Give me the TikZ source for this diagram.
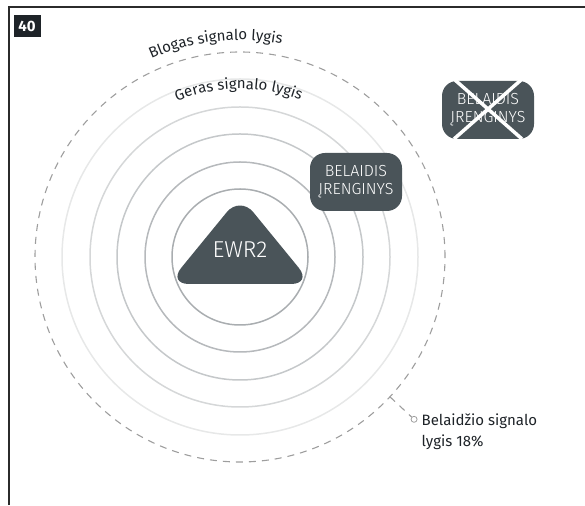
\documentclass[tikz,border=0pt]{standalone}
\usepackage{fontspec}
\setmainfont{Fira Sans}
\newfontfamily\lightfont{Fira Sans Light}
\usetikzlibrary{positioning,calc,decorations.text}
\definecolor{ink}{HTML}{1E2328}
\definecolor{slate}{HTML}{4A5459}
\definecolor{rule}{HTML}{2B2B2B}
\definecolor{dashgrey}{HTML}{9E9E9E}
\definecolor{ringa}{HTML}{A9ADB0}
\definecolor{ringb}{HTML}{B6B9BC}
\definecolor{ringc}{HTML}{C5C8CA}
\definecolor{ringd}{HTML}{D5D7D8}
\definecolor{ringe}{HTML}{E7E8E8}

\tikzset{
  ring/.style={line width=1.5pt},
  devicebox/.style={
    fill=slate,
    rounded corners=15pt,
    minimum width=92pt,
    minimum height=58pt,
    inner sep=2pt,
    text=white,
    align=center,
    font=\lightfont\fontsize{16}{18}\selectfont
  },
  arclabel/.style={
    decorate,
    decoration={text along path, text align=center, text color=ink,
      text={|\fontsize{15}{17}\selectfont|#1}}
  }
}

\begin{document}
\begin{tikzpicture}[x=1pt,y=1pt]
  \useasboundingbox (0,0) rectangle (585,505);
  \draw[rule, line width=1.5pt] (9,0) -- (9,498) -- (585,498);
  \node[
    fill=ink,
    text=white,
    minimum width=27pt,
    minimum height=22pt,
    inner sep=0pt,
    font=\bfseries\fontsize{15}{17}\selectfont
  ] (fignum) at (27,479) {40};

  \coordinate (c) at (240,248);
  \draw[dashgrey, line width=1.1pt, dash pattern=on 7pt off 6pt] (c) circle[radius=205];
  \foreach \r/\col in {68/ringa,95/ringb,123/ringc,150/ringd,178/ringe}
    \draw[ring,\col] (c) circle[radius=\r];

  \path[arclabel={Blogas signalo lygis}] ($(c)+(146.5:217)$) arc[start angle=146.5, end angle=46.5, radius=217];
  \path[arclabel={Geras signalo lygis}] ($(c)+(140.5:168)$) arc[start angle=140.5, end angle=40.5, radius=168];

  \fill[slate, rounded corners=21pt] (240,309) -- (312,221) -- (168,221) -- cycle;
  \node[text=white, font=\lightfont\fontsize{23}{25}\selectfont] (ewr) at (240,255) {EWR2};

  \node[devicebox] (device) at (356,323) {BELAIDIS\\ĮRENGINYS};
  \node[devicebox] (lostdev) at (488,395) {BELAIDIS\\ĮRENGINYS};
  \draw[white, line width=3.5pt] ($(lostdev)+(-33,30)$) -- ($(lostdev)+(34,-29)$);
  \draw[white, line width=3.5pt] ($(lostdev)+(33,30)$) -- ($(lostdev)+(-34,-29)$);

  \coordinate (edge) at ($(c)+(-43:205)$);
  \node[circle, draw=dashgrey, line width=0.8pt, minimum size=6pt, inner sep=0pt] (dot) at ($(c)+(-43:238)$) {};
  \draw[dashgrey, line width=1.1pt, dash pattern=on 7pt off 6pt] (edge) -- (dot);
  \node[
    anchor=north west,
    inner sep=0pt,
    align=left,
    text=ink,
    font=\fontsize{15}{21}\selectfont
  ] (level) at ($(dot.east)+(4,6)$) {Belaidžio signalo\\lygis 18\%};
\end{tikzpicture}
\end{document}
